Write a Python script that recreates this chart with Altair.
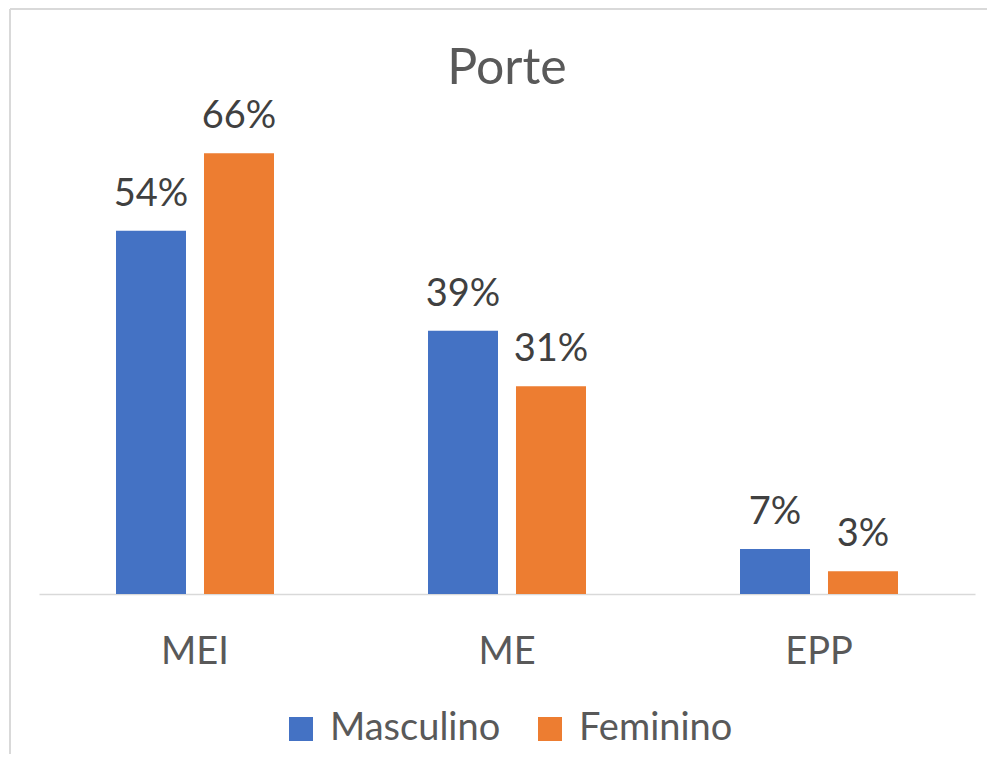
import altair as alt
import pandas as pd

categories = ["MEI", "ME", "EPP"]
series = ["Masculino", "Feminino"]
masculino = [0.542, 0.393, 0.067]
feminino = [0.658, 0.310, 0.034]
colors = ["#4472C4", "#ED7D31"]

rows = []
for i, c in enumerate(categories):
    rows.append({"Porte": c, "Sexo": "Masculino", "Valor": masculino[i]})
    rows.append({"Porte": c, "Sexo": "Feminino", "Valor": feminino[i]})
df = pd.DataFrame(rows)

FONT = "Lato"
FS = 38

x = alt.X("Porte:N", sort=categories, title=None,
          scale=alt.Scale(paddingInner=0.4936, paddingOuter=0.2468),
          axis=alt.Axis(labelAngle=0, labelFontSize=FS, labelColor="#595959",
                        labelFont=FONT, ticks=False, tickSize=0, labelPadding=69,
                        labelBaseline="alphabetic", domainColor="#D9D9D9",
                        domainWidth=1.5, grid=False))
xo = alt.XOffset("Sexo:N", sort=series,
                 scale=alt.Scale(paddingInner=0.2045, paddingOuter=0))
y = alt.Y("Valor:Q", scale=alt.Scale(domain=[0, 0.8], nice=False, zero=True),
          axis=None)

base = alt.Chart(df)

bars = base.mark_bar().encode(
    x=x, xOffset=xo, y=y,
    color=alt.Color("Sexo:N", sort=series,
                    scale=alt.Scale(domain=series, range=colors),
                    legend=alt.Legend(title=None, orient="none", direction="horizontal",
                                      legendX=243, legendY=652, symbolType="square",
                                      symbolSize=576, symbolStrokeWidth=0,
                                      labelFontSize=FS, labelFont=FONT,
                                      labelColor="#595959", labelOffset=10,
                                      columnPadding=30, padding=0,
                                      labelLimit=400)),
)

labels = base.mark_text(baseline="alphabetic", dy=-25, fontSize=FS, font=FONT,
                        color="#404040").encode(
    x=x, xOffset=xo, y=y,
    text=alt.Text("Valor:Q", format=".0%"),
)

border = alt.Chart(alt.Data(values=[{}])).mark_rule(color="#D9D9D9", strokeWidth=2).encode(
    x=alt.value(-29), y=alt.value(-49), y2=alt.value(720)
)
border_top = alt.Chart(alt.Data(values=[{}])).mark_rule(color="#D9D9D9", strokeWidth=2).encode(
    x=alt.value(-29), x2=alt.value(960), y=alt.value(-49)
)

chart = alt.layer(border, border_top, bars, labels).properties(
    width=936, height=536,
    background="white",
    title=alt.TitleParams(text="Porte", fontSize=50, font=FONT, color="#595959",
                          fontWeight="normal", anchor="middle", baseline="alphabetic",
                          frame="group", offset=-126),
    autosize=alt.AutoSizeParams(type="none"),
    padding={"left": 31, "top": 50, "right": 12, "bottom": 160},
).configure_view(strokeWidth=0, stroke="transparent")

chart.save("out.html", embed_options={"renderer": "svg", "actions": False})
